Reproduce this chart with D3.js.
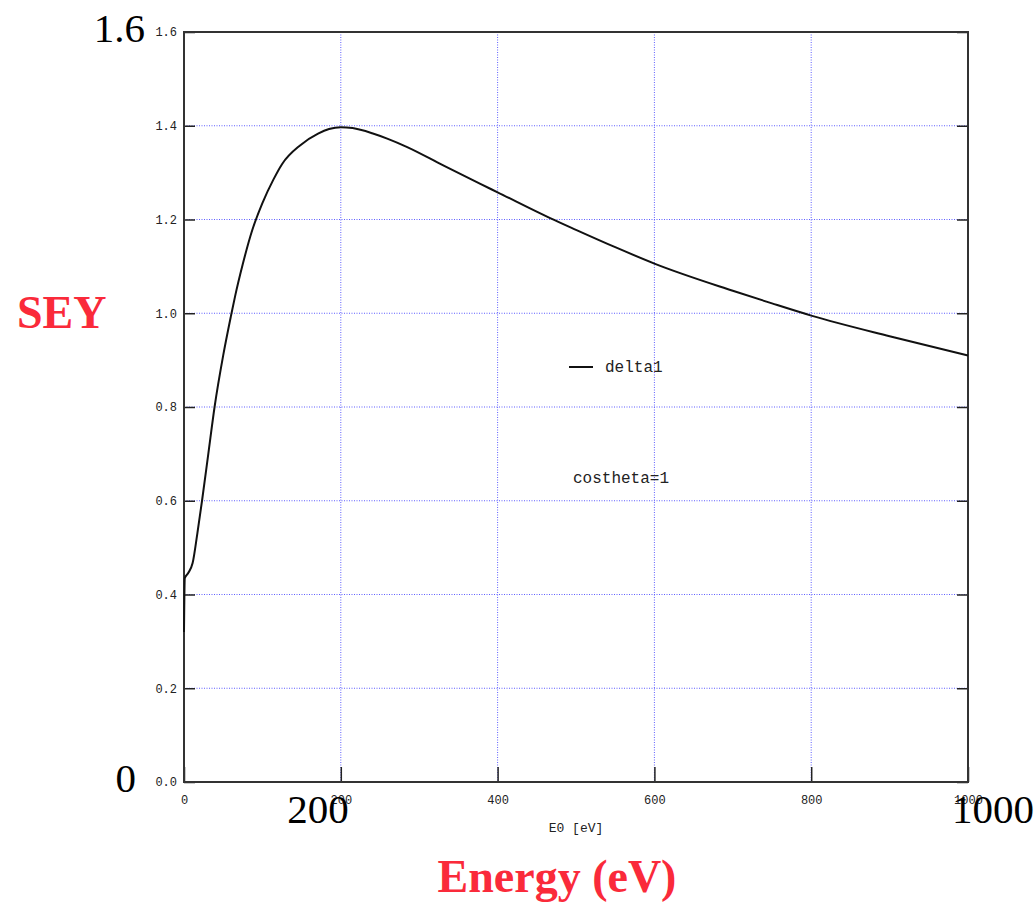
<!DOCTYPE html>
<html>
<head>
<meta charset="utf-8">
<script src="https://cdn.jsdelivr.net/npm/d3@7"></script>
<style>
  body { margin: 0; background: #fff; }
  .axis text { font-family: "Liberation Mono", "DejaVu Sans Mono", monospace; font-size: 12px; fill: #222; }
  .axis path { display: none; }
  .axis line { stroke: #222; stroke-width: 1.5px; }
  .big { font-family: "Liberation Serif", "Times New Roman", serif; font-size: 41px; fill: #000; }
  .redlab { font-family: "Liberation Serif", "Times New Roman", serif; font-size: 46px; font-weight: bold; fill: #fa2a3a; }
  .mono { font-family: "Liberation Mono", "DejaVu Sans Mono", monospace; fill: #222; }
</style>
</head>
<body>
<svg id="chart"></svg>
<script>
// secondary electron yield vs primary energy
const energy = [0, 1, 5, 11, 17, 23, 31, 39, 50, 60, 65, 75, 87, 100, 114, 125, 148, 171, 185, 200,
  215, 240, 260, 284, 330, 378, 400, 467, 500, 550, 600, 700, 750, 800, 900, 1000];
const delta1 = [0.32, 0.435, 0.445, 0.467, 0.53, 0.60, 0.70, 0.80, 0.91, 0.995, 1.035, 1.105, 1.177, 1.235, 1.285, 1.318, 1.358, 1.383, 1.393, 1.397,
  1.395, 1.384, 1.372, 1.355, 1.316, 1.276, 1.258, 1.203, 1.178, 1.141, 1.106, 1.048, 1.021, 0.995, 0.951, 0.91];

const xTicks = [0, 200, 400, 600, 800, 1000];
const yTicks = [0, 0.2, 0.4, 0.6, 0.8, 1.0, 1.2, 1.4, 1.6];

// big overlay labels pasted over the original plot
const bigYLabels = [{v: 1.6, t: "1.6"}, {v: 0, t: "0"}];
const bigXLabels = [{v: 200, t: "200"}, {v: 1000, t: "1000"}];

const W = 1036, H = 904;
const box = {left: 184, right: 968, top: 32, bottom: 782};

const svg = d3.select("#chart").attr("width", W).attr("height", H);

const x = d3.scaleLinear().domain([0, 1000]).range([box.left, box.right]);
const y = d3.scaleLinear().domain([0, 1.6]).range([box.bottom, box.top]);

// dotted blue grid
const grid = svg.append("g").attr("class", "grid")
  .attr("stroke", "#5f5fff").attr("stroke-width", 1).attr("stroke-dasharray", "1,1.5");
grid.selectAll(".gx").data(xTicks.slice(1, -1)).join("line")
  .attr("x1", d => x(d)).attr("x2", d => x(d))
  .attr("y1", box.top).attr("y2", box.bottom);
grid.selectAll(".gy").data(yTicks.slice(1, -1)).join("line")
  .attr("y1", d => y(d)).attr("y2", d => y(d))
  .attr("x1", box.left).attr("x2", box.right);

// axes, ticks pointing inwards
svg.append("g").attr("class", "axis y-axis")
  .attr("transform", `translate(${box.left},0)`)
  .call(d3.axisLeft(y).tickValues(yTicks).tickSize(-11).tickPadding(7).tickFormat(d3.format(".1f")));

svg.append("g").attr("class", "axis y-axis-right")
  .attr("transform", `translate(${box.right},0)`)
  .call(d3.axisRight(y).tickValues(yTicks).tickSize(-11).tickFormat(""));

svg.append("g").attr("class", "axis x-axis")
  .attr("transform", `translate(0,${box.bottom})`)
  .call(d3.axisBottom(x).tickValues(xTicks).tickSize(-15).tickPadding(13).tickFormat(d3.format("d")));

// frame
svg.append("rect")
  .attr("x", box.left).attr("y", box.top)
  .attr("width", box.right - box.left).attr("height", box.bottom - box.top)
  .attr("fill", "none").attr("stroke", "#333").attr("stroke-width", 2);

// curve
const pts = energy.map((e, i) => [e, delta1[i]]);
svg.append("path")
  .datum(pts)
  .attr("fill", "none")
  .attr("stroke", "#111")
  .attr("stroke-width", 2)
  .attr("d", d3.line().x(d => x(d[0])).y(d => y(d[1])).curve(d3.curveMonotoneX));

// legend + annotation
svg.append("line")
  .attr("x1", 569).attr("x2", 593).attr("y1", 367).attr("y2", 367)
  .attr("stroke", "#111").attr("stroke-width", 2);
svg.append("text").attr("class", "mono")
  .attr("x", 605).attr("y", 372).style("font-size", "16px").text("delta1");
svg.append("text").attr("class", "mono")
  .attr("x", 573).attr("y", 483).style("font-size", "16px").text("costheta=1");

svg.append("text").attr("class", "mono")
  .attr("x", 576).attr("y", 832).attr("text-anchor", "middle")
  .style("font-size", "13px").text("E0 [eV]");

// overlay labels
svg.selectAll(".bigY").data(bigYLabels).join("text")
  .attr("class", "big")
  .attr("x", d => d.v === 0 ? 136 : 145).attr("y", d => y(d.v) + 10)
  .attr("text-anchor", "end")
  .text(d => d.t);

svg.selectAll(".bigX").data(bigXLabels).join("text")
  .attr("class", "big")
  .attr("x", d => d.v === 1000 ? x(d.v) - 16 : x(d.v) + 8).attr("y", 823)
  .attr("text-anchor", d => d.v === 1000 ? "start" : "end")
  .text(d => d.t);

svg.append("text").attr("class", "redlab")
  .attr("x", 17).attr("y", 328).text("SEY");

svg.append("text").attr("class", "redlab")
  .attr("x", 557).attr("y", 892).attr("text-anchor", "middle").text("Energy (eV)");
</script>
</body>
</html>
